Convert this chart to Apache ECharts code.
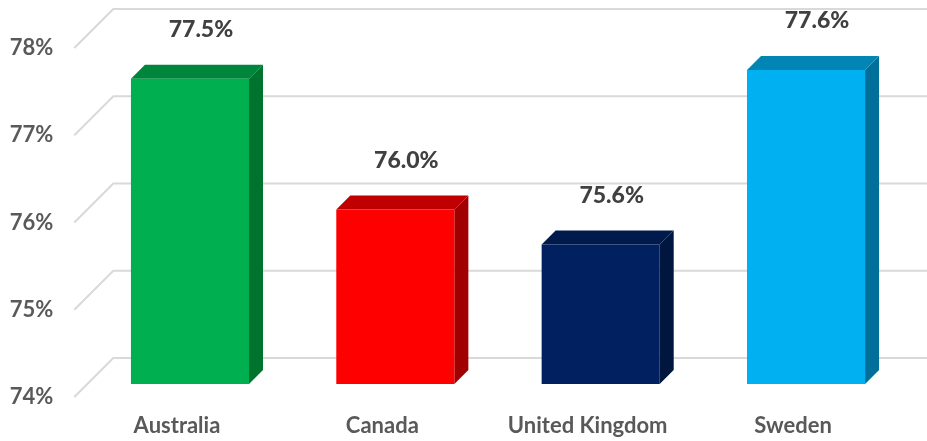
<!DOCTYPE html>
<html>
<head>
<meta charset="utf-8">
<script src="https://cdn.jsdelivr.net/npm/echarts@6/dist/echarts.min.js"></script>
<style>
  html, body { margin: 0; padding: 0; background: #ffffff; }
  #chart { width: 927px; height: 441px; }
</style>
</head>
<body>
<div id="chart"></div>
<script>
// Life expectancy share by country, drawn as Excel-style 3D columns
const countries = ['Australia', 'Canada', 'United Kingdom', 'Sweden'];
const shares = [77.5, 76.0, 75.6, 77.6];
const axisTicks = [74, 75, 76, 77, 78];

// front / top / side face colours for each column
const faceFront = ['#00B050', '#FF0000', '#002060', '#00B0F0'];
const faceTop = ['#00853C', '#C00000', '#001A4C', '#0085B5'];
const faceSide = ['#00732F', '#A00000', '#00163F', '#00709A'];

const AXIS_MIN = 74, AXIS_MAX = 78;
const DEPTH = 14;          // column depth in px (drawn at 45 degrees)
const WALL_BACK = 26;      // bar plane -> back wall
const WALL_FRONT = 13;     // bar plane -> floor front edge
const BAR_RATIO = 0.575;   // column width as share of the category band
const FONT = 'Lato, "Open Sans", sans-serif';

const chart = echarts.init(document.getElementById('chart'), null, { renderer: 'canvas' });

function renderWall(params, api) {
  const v = api.value(0);
  const cs = params.coordSys;
  const y = api.coord([0, v])[1];
  const xl = cs.x;
  return {
    type: 'polyline',
    shape: {
      points: [
        [xl - WALL_FRONT, y + WALL_FRONT],
        [xl + WALL_BACK, y - WALL_BACK],
        [cs.x + cs.width + WALL_BACK + 40, y - WALL_BACK]
      ]
    },
    style: { stroke: '#D9D9D9', lineWidth: 2, fill: null },
    silent: true
  };
}

function renderColumn(params, api) {
  const i = api.value(0);
  const v = api.value(1);
  const top = api.coord([i, v]);
  const base = api.coord([i, AXIS_MIN]);
  const band = api.size([1, 0])[0];
  const w = band * BAR_RATIO;
  const x0 = top[0] - w / 2, x1 = top[0] + w / 2;
  const yT = top[1], yB = base[1];
  const d = DEPTH;
  return {
    type: 'group',
    children: [
      {
        type: 'polygon',
        shape: { points: [[x1, yT], [x1 + d, yT - d], [x1 + d, yB - d], [x1, yB]] },
        style: { fill: faceSide[i] }
      },
      {
        type: 'polygon',
        shape: { points: [[x0, yT], [x0 + d, yT - d], [x1 + d, yT - d], [x1, yT]] },
        style: { fill: faceTop[i] }
      },
      {
        type: 'rect',
        shape: { x: x0, y: yT, width: w, height: yB - yT },
        style: { fill: faceFront[i] }
      },
      {
        type: 'text',
        x: top[0] + 11,
        y: yT - 49,
        style: {
          text: v.toFixed(1) + '%',
          align: 'center',
          verticalAlign: 'middle',
          fill: '#404040',
          font: '900 23px ' + FONT
        }
      }
    ]
  };
}

chart.setOption({
  animation: false,
  backgroundColor: '#ffffff',
  grid: [
    // plane of the column fronts
    { left: 87.3, right: 18.3, top: 35, bottom: 57 },
    // plane of the floor's front edge, carrying the axis labels
    { left: 74.3, right: 31.3, top: 48, bottom: 44 }
  ],
  xAxis: [
    { gridIndex: 0, type: 'category', data: countries, show: false },
    {
      gridIndex: 1, type: 'category', data: countries,
      axisLine: { show: false }, axisTick: { show: false },
      axisLabel: {
        interval: 0, color: '#595959', fontFamily: FONT, fontWeight: 'bold', fontSize: 22, margin: 18
      }
    }
  ],
  yAxis: [
    { gridIndex: 0, type: 'value', min: AXIS_MIN, max: AXIS_MAX, interval: 1, show: false },
    {
      gridIndex: 1, type: 'value', min: AXIS_MIN, max: AXIS_MAX, interval: 1,
      axisLine: { show: false }, axisTick: { show: false }, splitLine: { show: false },
      axisLabel: {
        color: '#595959', fontFamily: FONT, fontWeight: 'bold', fontSize: 22, margin: 21,
        formatter: (val) => val + '%'
      }
    }
  ],
  series: [
    {
      type: 'custom',
      xAxisIndex: 0, yAxisIndex: 0,
      data: axisTicks.map(t => [t]),
      encode: { y: 0 },
      renderItem: renderWall,
      z: 1,
      clip: false
    },
    {
      type: 'custom',
      xAxisIndex: 0, yAxisIndex: 0,
      data: shares.map((s, i) => [i, s]),
      encode: { x: 0, y: 1 },
      renderItem: renderColumn,
      z: 5,
      clip: false
    }
  ]
});
</script>
</body>
</html>
